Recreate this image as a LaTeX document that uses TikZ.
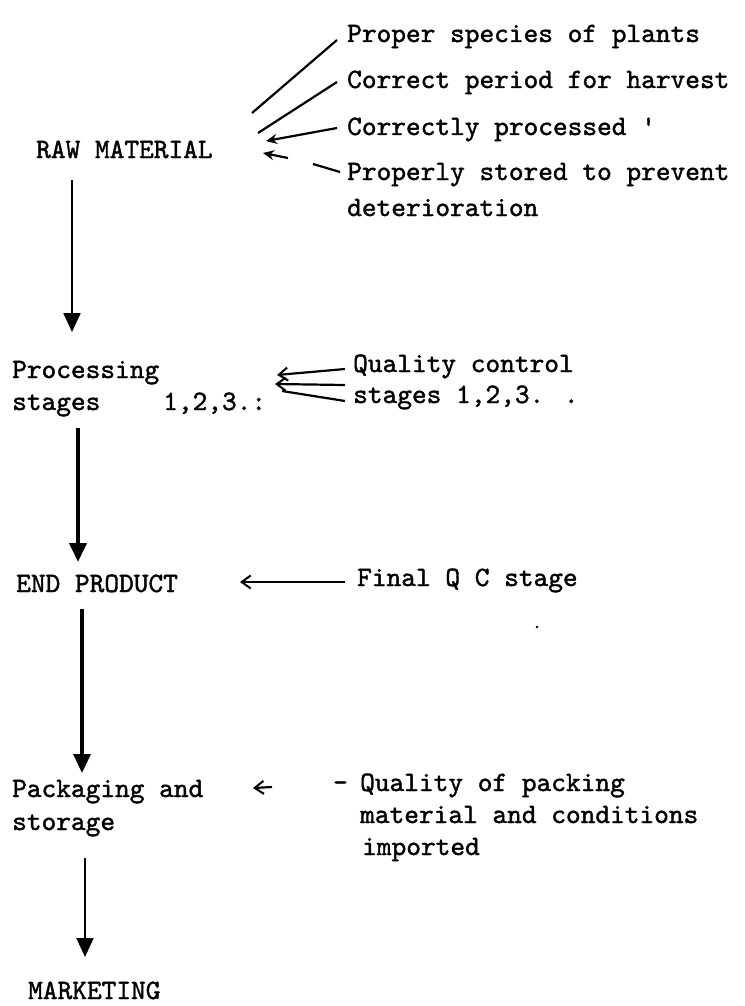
\documentclass[tikz,border=0pt]{standalone}
\usepackage{fontspec}
\newfontfamily\typew[FakeBold=1.4]{lmmono10-regular.otf}
\usetikzlibrary{arrows.meta}
\begin{document}
\begin{tikzpicture}[x=1pt,y=-1pt,
  lbl/.style={anchor=base west,inner sep=0pt,font=\typew\fontsize{28}{31}\selectfont},
  flow/.style={-{Triangle[width=17pt,length=19pt]}},
  note/.style={line width=2.2pt},
  barb/.style={note,-{Straight Barb[length=9pt,width=13pt,line width=2pt]}},
  dart/.style={note,-{Stealth[length=11pt,width=10pt]}}]
\useasboundingbox (0,0) rectangle (744,1006);

% main chain
\node[lbl] (raw)  at (36,158)  {RAW MATERIAL};
\node[lbl] (proc) at (12,378)  {Processing};
\node[lbl] (stg)  at (12,410)  {stages};
\node[lbl] (pnum) at (163,410) {1,2,3.:};
\node[lbl] (endp) at (16,592)  {END PRODUCT};
\node[lbl] (pack) at (12,797)  {Packaging and};
\node[lbl] (stor) at (12,830)  {storage};
\node[lbl] (mkt)  at (28,999)  {MARKETING};

% notes on the raw material
\node[lbl] (n1)  at (347,42)  {Proper species of plants};
\node[lbl] (n2)  at (347,88)  {Correct period for harvest};
\node[lbl] (n3)  at (347,135) {Correctly processed '};
\node[lbl] (n4)  at (347,180) {Properly stored to prevent};
\node[lbl] (n4b) at (347,216) {deterioration};

% quality control notes
\node[lbl] (qc1) at (353,372) {Quality control};
\node[lbl] (qc2) at (353,403) {stages 1,2,3. .};
\node[lbl] (fqc) at (357,586) {Final Q C stage};
\node[lbl] (dsh) at (333,791) {-};
\node[lbl] (pk1) at (360,791) {Quality of packing};
\node[lbl] (pk2) at (360,823) {material and conditions};
\node[lbl] (pk3) at (362,855) {imported};

% end points of the connectors
\coordinate (a1s) at (72,180);  \coordinate (a1e) at (72,332);
\coordinate (a2s) at (78,428);  \coordinate (a2e) at (78,562);
\coordinate (a3s) at (82,609);  \coordinate (a3e) at (82,773);
\coordinate (a4s) at (85,858);  \coordinate (a4e) at (85,957);

\coordinate (r1) at (252,113); \coordinate (r2) at (258,133);
\coordinate (r3) at (266,141); \coordinate (r4) at (263,153);
\coordinate (r4m) at (288,158); \coordinate (r4n) at (313,164);
\coordinate (q1) at (277,375); \coordinate (q2) at (275,384);
\coordinate (q3) at (282,391);
\coordinate (e1) at (240,582);
\coordinate (p1) at (253,788); \coordinate (p1s) at (272,787);

% flow arrows
\draw[flow,line width=2.4pt] (a1s) -- (a1e);
\draw[flow,line width=4pt]   (a2s) -- (a2e);
\draw[flow,line width=3.5pt] (a3s) -- (a3e);
\draw[flow,line width=2pt]   (a4s) -- (a4e);

% note leaders
\draw[note] (n1.base west) ++(-10,-2) -- (r1);
\draw[note] (n2.base west) ++(-10,-6) -- (r2);
\draw[dart] (n3.base west) ++(-10,-7) -- (r3);
\draw[note] (n4.base west) ++(-7,-8) -- (r4n);
\draw[dart] (r4m) -- (r4);

\draw[barb] (qc1.base west) ++(-8,-3) -- (q1);
\draw[barb] (qc2.base west) ++(-8,-18) -- (q2);
\draw[note] (qc2.base west) ++(-8,-2) -- (q3);

\draw[barb] (fqc.base west) ++(-12,-4) -- (e1);
\draw[barb] (p1s) -- (p1);

\fill (537,627) circle (1.3pt);
\end{tikzpicture}
\end{document}
